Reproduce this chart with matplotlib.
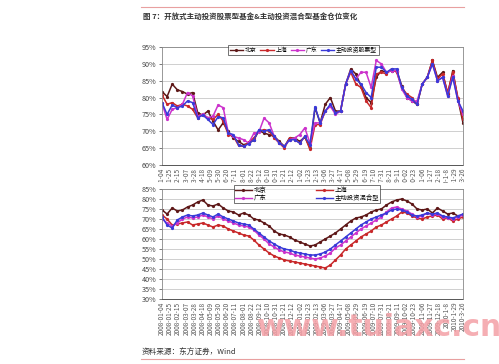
import matplotlib
matplotlib.use("Agg")
from matplotlib import pyplot as plt
from matplotlib.patches import Rectangle
from matplotlib.lines import Line2D
import numpy as np

plt.rcParams['font.family'] = ['Noto Sans CJK SC', 'DejaVu Sans']

# tick labels (every 3 weeks)
dates = ["2008-01-04", "2008-01-25", "2008-02-15", "2008-03-07", "2008-03-28", "2008-04-18",
         "2008-05-09", "2008-05-30", "2008-06-20", "2008-07-11", "2008-08-01", "2008-08-22",
         "2008-09-12", "2008-10-10", "2008-10-31", "2008-11-21", "2008-12-12", "2009-01-02",
         "2009-01-23", "2009-02-13", "2009-03-06", "2009-03-27", "2009-04-17", "2009-05-08",
         "2009-05-29", "2009-06-19", "2009-07-10", "2009-07-31", "2009-08-21", "2009-09-11",
         "2009-10-02", "2009-10-23", "2009-11-06", "2009-11-27", "2009-12-18", "2010-1-8",
         "2010-1-29", "2010-3-26"]

# top chart: stock funds (%)
top_bj = [81.8, 80.3, 84, 82.3, 81.8, 81, 81.5, 75.5, 74.8, 76, 73, 70.4, 72.5, 70, 67.9, 67, 66, 66.5,
          67.4, 70.2, 69.5, 69, 68.5, 67, 65.5, 68, 68, 67, 68.3, 65, 77, 72.5, 78, 80, 76, 76, 84, 88.5,
          87, 83.5, 80, 78.5, 86, 88, 87.5, 88, 88, 83.5, 80, 79, 78, 84, 86, 91, 86, 87.5, 81, 88, 79.5, 72.5]
top_sh = [80.8, 78, 78.5, 77.5, 78, 77.5, 76.5, 74, 75, 74, 73.5, 75, 73, 69, 68.5, 65.8, 65.5, 66.8,
          68, 70, 70.5, 70, 68, 66.5, 65, 68, 67.5, 66.5, 68.5, 64.6, 72, 72, 76, 77.5, 75.5, 76, 84, 87.5,
          84, 83, 79, 77, 87, 87.5, 87, 88.5, 87.5, 83, 81, 80, 78, 84, 86, 91, 85.5, 87, 81.5, 87.5, 80, 73.5]
top_gd = [78.3, 73.5, 76.5, 77, 78, 81.5, 80.5, 74.5, 75, 74, 74.5, 77.8, 77, 69.5, 68.5, 68, 67.5, 66.5,
          69.4, 69.8, 73.9, 72.5, 68.5, 66.5, 65.5, 67.5, 68, 69, 71, 66.5, 72.5, 72.5, 76, 77.5, 75, 76, 84, 88,
          85.5, 87.5, 87.5, 83, 91, 90, 87.5, 88, 88, 82.5, 80, 79, 79, 84, 86, 90, 85, 86, 80.5, 86.5, 79, 75]
top_zd = [78.5, 75, 77.8, 77, 77.5, 79, 78.5, 74, 74.8, 73.5, 72, 74.3, 74, 69.5, 69, 66, 65.5, 66.3,
          67.5, 70.5, 70, 70.5, 68.5, 66.5, 65.5, 67.5, 67.5, 66.5, 68.5, 66, 77.3, 72.5, 76, 78, 75.5, 76, 84, 88,
          85.5, 84, 81.5, 80, 89, 89, 87.5, 88.5, 88.5, 83, 80.5, 79.5, 78, 84, 86, 90, 85, 86, 80.5, 86, 79, 76]

# bottom chart: mixed funds (%)
bot_bj = [74.5, 72.5, 75.5, 74, 74.5, 76, 77, 78.5, 79.5, 77, 76.5, 77.5, 75.5, 74, 73.5, 72, 73, 72, 70, 69.5,
          68, 66.5, 64, 62.5, 62, 61, 59.5, 58.5, 57.5, 56.5, 57, 58.5, 60, 61.5, 63, 65, 67, 69, 70.5, 71,
          72, 73.5, 74.5, 75, 77, 78.5, 79.5, 80, 79, 77.5, 75, 74.5, 75, 73, 75.5, 74, 72.5, 73, 71.5, 72]
bot_sh = [72, 70, 67, 67.5, 68, 68.5, 67, 67.5, 68, 67, 66, 67, 66.5, 65, 64, 63, 62, 61.5, 59.5, 57,
          55, 53, 51.5, 50.5, 49.5, 49, 48.5, 48, 47.5, 47, 46.5, 46, 45.5, 47, 49.5, 52, 55, 57, 59, 61,
          62.5, 64, 66, 67, 68.5, 70, 71.5, 73.5, 73, 71.5, 70.5, 70, 71, 71.5, 72, 70, 70.5, 69, 70, 71]
bot_gd = [70, 68, 66.5, 68, 70, 71, 70.5, 71, 72, 71, 70, 71.5, 70, 69, 68, 67, 66.5, 66, 64.5, 62,
          60, 57.5, 56, 54.5, 53.5, 53, 52, 51.5, 51, 50.5, 50, 50.5, 51.5, 53, 55.5, 57, 59, 61, 63, 65,
          66.5, 68, 69.5, 71, 73.5, 75.5, 76, 75, 74, 72.5, 71, 71.5, 73, 72, 72.5, 71, 70.5, 70, 71, 72]
bot_zd = [71, 67, 65.5, 69.5, 71, 72, 71.5, 72, 73, 72, 71, 72.5, 71, 70, 69, 68, 67.5, 67, 65, 63,
          61, 59, 57.5, 56, 55, 54.5, 53.5, 53, 52.5, 52, 52, 52.5, 53.5, 55, 57, 59, 61, 63, 65, 67,
          68.5, 70, 71, 72, 73, 74.5, 75, 74.5, 73.5, 72, 71.5, 72, 73, 72.5, 73, 71.5, 71, 70.5, 71.5, 72.5]

names_top = ["北京", "上海", "广东", "主动投资股票型"]
names_bot = ["北京", "上海", "广东", "主动投资混合型"]
colors = ["#5e1818", "#c8282a", "#cc33cc", "#3a3ad8"]

W, H = 499, 364
fig = plt.figure(figsize=(W / 100, H / 100), dpi=100)


def px(x0, y0, x1, y1):
    return [x0 / W, 1 - y1 / H, (x1 - x0) / W, (y1 - y0) / H]


def style(ax, lo, hi):
    ax.set_ylim(lo, hi)
    ax.set_yticks(np.arange(lo, hi + 0.1, 5))
    ax.set_yticklabels([f"{v:.0f}%" for v in np.arange(lo, hi + 0.1, 5)])
    ax.grid(axis='y', color='#c8c8c8', lw=0.6)
    ax.set_axisbelow(True)
    for s in ['top', 'right', 'left']:
        ax.spines[s].set_color('#888888')
        ax.spines[s].set_linewidth(0.6)
    ax.spines['bottom'].set_color('#555555')
    ax.spines['bottom'].set_linestyle((0, (1, 1)))
    ax.spines['bottom'].set_linewidth(0.7)
    ax.tick_params(axis='y', labelsize=5.2, length=2, width=0.5, colors='#444444', pad=2)
    ax.tick_params(axis='x', labelsize=4.6, length=0, colors='#555555', pad=2)
    pos = np.linspace(0, len(top_zd) - 1, len(dates))
    ax.set_xticks(pos)
    ax.set_xticklabels(dates, rotation=90)
    ax.set_xlim(0, len(top_zd) - 1)


ax1 = fig.add_axes(px(162, 47, 463, 165))
x = np.arange(len(top_zd))
for ys, c in zip([top_bj, top_sh, top_gd, top_zd], colors):
    ax1.plot(x, ys, color=c, lw=1.1, marker='o', ms=1.3)
style(ax1, 60, 95)

# white band hides the cut-off date labels of the upper chart
fig.patches.append(Rectangle((0, 0), 1, 1 - 183 / H, transform=fig.transFigure,
                             facecolor='white', edgecolor='none', zorder=0.5))

ax2 = fig.add_axes(px(162, 189, 463, 299))
ax2.set_zorder(1)
x = np.arange(len(bot_zd))
for ys, c in zip([bot_bj, bot_sh, bot_gd, bot_zd], colors):
    ax2.plot(x, ys, color=c, lw=1.1, marker='o', ms=1.3)
style(ax2, 30, 85)

h1 = [Line2D([], [], color=c, lw=1, marker='o', ms=1.3) for c in colors]
leg1 = ax1.legend(h1, names_top, ncol=4, fontsize=4.2, loc='upper left',
                  bbox_to_anchor=(228 / W, 1 - 45 / H), bbox_transform=fig.transFigure,
                  frameon=True, fancybox=False, edgecolor='#333333', borderpad=0.3,
                  handlelength=2.3, handletextpad=0.3, columnspacing=0.6, borderaxespad=0)
leg1.get_frame().set_linewidth(0.6)

order = [0, 2, 1, 3]
leg2 = ax2.legend([h1[i] for i in order], [names_bot[i] for i in order], ncol=2, fontsize=4.6,
                  loc='upper left', bbox_to_anchor=(234 / W, 1 - 185 / H), bbox_transform=fig.transFigure,
                  frameon=True, fancybox=False, edgecolor='#333333', borderpad=0.15,
                  handlelength=2.6, handletextpad=0.3, columnspacing=7.8, labelspacing=0.05,
                  borderaxespad=0)
leg2.get_frame().set_linewidth(0.6)

# header / footer
fig.add_artist(Line2D([141 / W, 464 / W], [1 - 7 / H, 1 - 7 / H], color='#e8a0a0', lw=0.8))
fig.add_artist(Line2D([141 / W, 464 / W], [1 - 359 / H, 1 - 359 / H], color='#e8a0a0', lw=0.8))
fig.text(143 / W, 1 - 16 / H, "图 7：开放式主动投资股票型基金&主动投资混合型基金仓位变化",
         fontsize=5.4, weight='bold', color='#333333', va='center', ha='left')
fig.text(142 / W, 1 - 352 / H, "资料来源：东方证券，Wind", fontsize=5.5, color='#333333',
         va='center', ha='left')
fig.text(257 / W, 1 - 328 / H, "www.tuiaxc.cn", fontsize=21.5, color='#f4a0a6', alpha=0.85,
         va='center', ha='left', family='DejaVu Sans', weight='bold', zorder=5)

fig.savefig("out.png", dpi=100)
